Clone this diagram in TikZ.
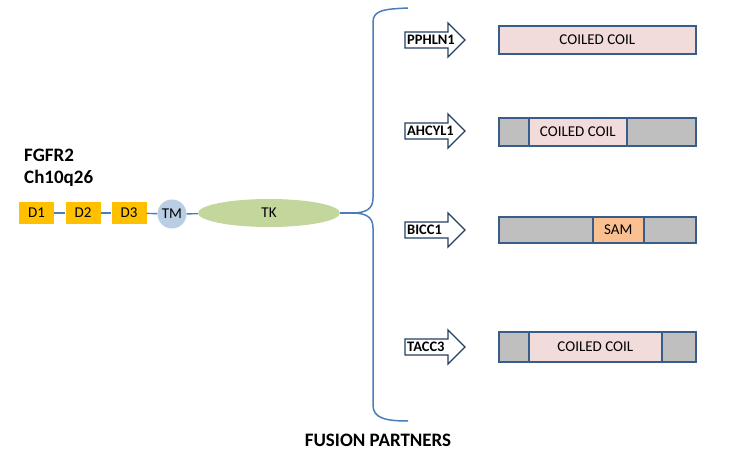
\documentclass[tikz,border=0pt]{standalone}
\usepackage{fontspec}
\setmainfont{Carlito}
\usetikzlibrary{shapes.geometric}
\definecolor{domgold}{HTML}{FFC000}
\definecolor{tmblue}{HTML}{B9CDE5}
\definecolor{tkgreen}{HTML}{C3D69B}
\definecolor{linkblue}{HTML}{4A7EBB}
\definecolor{barblue}{HTML}{385D8A}
\definecolor{arrnavy}{HTML}{243F60}
\definecolor{ccpink}{HTML}{F2DCDB}
\definecolor{seggray}{HTML}{BFBFBF}
\definecolor{samorange}{HTML}{FAC090}
\begin{document}
\begin{tikzpicture}[x=1pt,y=-1pt,
  dom/.style={fill=domgold, minimum width=35pt, minimum height=22pt, inner sep=0pt, font=\fontsize{15}{15}\selectfont},
  link/.style={draw=linkblue, line width=1.4pt},
  seg/.style={draw=barblue, line width=1.6pt, anchor=west, minimum height=28pt, inner sep=0pt, font=\fontsize{15}{15}\selectfont},
  partner/.style={draw=arrnavy, line width=1.3pt, fill=white},
  plabel/.style={font=\bfseries\fontsize{14.5}{14.5}\selectfont, inner sep=0pt, anchor=west},
  title/.style={font=\bfseries\fontsize{19}{19}\selectfont, inner sep=0pt, anchor=base west}]
\useasboundingbox (0,0) rectangle (730,462);
% FGFR2
\node[title] (t1) at (24,162) {FGFR2};
\node[title] (t2) at (24,184) {Ch10q26};
\node[dom] (d1) at (36.5,213) {D1};
\node[dom] (d2) at (83,213) {D2};
\node[dom] (d3) at (129,213) {D3};
\node[circle, fill=tmblue, minimum size=29pt, inner sep=0pt, font=\fontsize{15}{15}\selectfont] (tm) at (172,214) {TM};
\node[ellipse, fill=tkgreen, minimum width=142pt, minimum height=28pt, inner sep=0pt, font=\fontsize{15}{15}\selectfont] (tk) at (269,213) {TK};
\coordinate (tip) at (352,213);
\draw[link] (d1) -- (d2);
\draw[link] (d2) -- (d3);
\draw[link] (d3) -- (tm);
\draw[link] (tm) -- (tk);
\draw[link] (tk.east) -- (tip);
% brace
\draw[link, line width=1.5pt] (408,8) .. controls (385,9) and (373,10) .. (373,22) -- (373,198)
  .. controls (373,209) and (366,213) .. (tip)
  .. controls (366,213) and (373,217) .. (373,228) -- (373,405)
  .. controls (373,418) and (385,421) .. (408,421);
% partner arrows
\foreach \c/\n/\lab in {40/a1/PPHLN1, 131/a2/AHCYL1, 230/a3/BICC1, 347/a4/TACC3}{
  \draw[partner] (405,\c-8) -- (448,\c-8) -- (448,\c-17) -- (465,\c) -- (448,\c+17) -- (448,\c+8) -- (405,\c+8) -- cycle;
  \node[plabel] (\n) at (407,\c) {\lab};
}
% bars
\node[seg, fill=ccpink, minimum width=197pt] (b1) at (498,40) {COILED COIL};
\node[seg, fill=seggray, minimum width=30pt] (b2a) at (498,132) {};
\node[seg, fill=ccpink, minimum width=98pt] (b2b) at (528,132) {COILED COIL};
\node[seg, fill=seggray, minimum width=69pt] (b2c) at (626,132) {};
\node[seg, fill=seggray, minimum width=94pt, minimum height=26pt] (b3a) at (498,230) {};
\node[seg, fill=samorange, minimum width=51pt, minimum height=26pt] (b3b) at (592,230) {SAM};
\node[seg, fill=seggray, minimum width=52pt, minimum height=26pt] (b3c) at (643,230) {};
\node[seg, fill=seggray, minimum width=30pt, minimum height=30pt] (b4a) at (498,347) {};
\node[seg, fill=ccpink, minimum width=133pt, minimum height=30pt] (b4b) at (528,347) {COILED COIL};
\node[seg, fill=seggray, minimum width=34pt, minimum height=30pt] (b4c) at (661,347) {};
\node[font=\bfseries\fontsize{19}{19}\selectfont, inner sep=0pt] (fp) at (378,440) {FUSION PARTNERS};
\end{tikzpicture}
\end{document}
